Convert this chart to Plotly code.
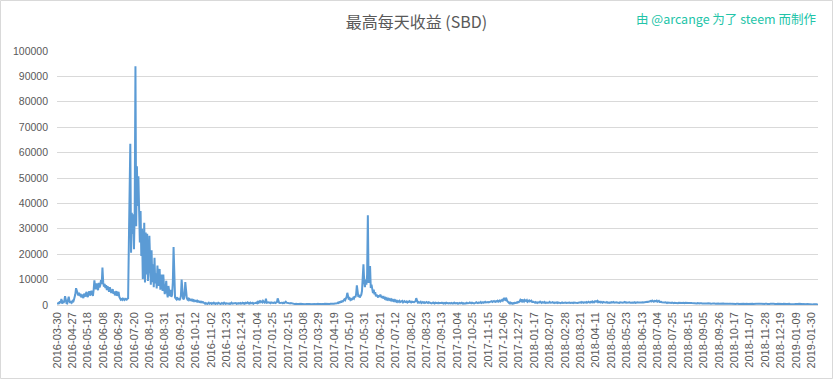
import plotly.graph_objects as go

# Daily highest payout (SBD), one value per data row of the source
values = (
    # 0-20
    [400, 600, 800, 500, 1500, 900, 2400, 600, 1200, 800, 1600, 3500, 1200, 700, 600, 1800, 3300, 1500, 800, 1200, 900]
    # 21-50
    + [1500, 1100, 2000, 3000, 4200, 6600, 5200, 4300, 3800, 4800, 3500, 4400, 3000, 4100, 3600, 2700, 4500, 3900, 3300, 5200,
       4000, 3100, 4600, 5400, 3800, 4200, 5600, 4800, 3600, 6000]
    # 51-62
    + [9700, 7000, 6200, 8500, 7600, 5800, 8700, 6900, 7800, 9800, 8200, 14700]
    # 63-85
    + [9000, 7200, 8300, 6700, 7800, 5900, 7400, 6300, 5200, 7000, 6100, 4700, 5600, 6200, 4400, 5300, 3800, 4600, 5500, 3600,
       4200, 5200, 3200]
    # 86-97
    + [2400, 2100, 2300, 2000, 2500, 2200, 2000, 2400, 2300, 2100, 2500, 2600]
    # 98-107
    + [24000, 38000, 63500, 20600, 36300, 28000, 35700, 22000, 37000, 94000]
    # 108-121
    + [31000, 54600, 39000, 50700, 42000, 24600, 37000, 19300, 30000, 10200, 14000, 32400, 8900, 28500]
    # 122-157
    + [12000, 28000, 9500, 14000, 27300, 10500, 8000, 21500, 9000, 16000, 7000, 18600, 8500, 12500, 6500, 15500, 7500, 9500,
       14200, 6000, 8000, 12000, 5500, 12000, 7000, 4300, 6300, 9500, 5000, 3000, 7500, 4500, 3500, 6000, 3200, 4000]
    # 158-176
    + [9000, 22800, 6000, 3000, 2500, 2200, 3100, 2000, 2600, 1900, 2400, 3500, 10000, 3500, 2500, 2200, 4000, 9000, 3000]
    # 177-200
    + [2800, 2200, 2500, 1900, 2300, 2000, 1800, 2100, 1700, 1900, 1500, 1800, 1600, 1400, 1700, 1300, 1500, 1200, 1400, 1100,
       1300, 1000, 1200, 900]
    # 201-248
    + [700, 500, 800, 600, 400, 700, 900, 500, 600, 800, 450, 700, 550, 900, 600, 400, 750, 650, 500, 850,
       600, 700, 400, 550, 800, 600, 500, 900, 650, 450, 700, 600, 800, 500, 650, 400, 700, 900, 550, 600,
       750, 500, 650, 800, 450, 600, 700, 550]
    # 249-270
    + [600, 800, 500, 700, 900, 600, 750, 500, 850, 650, 700, 1000, 600, 800, 550, 900, 700, 600, 850, 500, 750, 650]
    # 271-285
    + [800, 1000, 700, 1200, 900, 1400, 1100, 1500, 1300, 1000, 1600, 1200, 900, 1100, 2500]
    # 286-301
    + [900, 1000, 800, 1100, 900, 700, 1000, 850, 950, 800, 900, 1000, 750, 900, 1100, 2600]
    # 302-321
    + [1000, 900, 800, 1000, 850, 900, 700, 950, 800, 1000, 1300, 900, 800, 700, 900, 750, 600, 800, 700, 500]
    # 322-381
    + [400, 300, 450, 350, 500, 300, 400, 350, 450, 300, 400, 500, 350, 300, 450, 400, 350, 300, 400, 450,
       300, 350, 500, 400, 300, 350, 400, 450, 300, 400, 350, 300, 450, 400, 500, 350, 300, 400, 450, 350,
       400, 300, 350, 450, 400, 500, 350, 400, 450, 300, 400, 500, 450, 400, 550, 500, 450, 600, 550, 650]
    # 382-396
    + [700, 900, 800, 1100, 1000, 1300, 1200, 1500, 1400, 1800, 2200, 1900, 2500, 3200, 4800]
    # 397-409
    + [3000, 2200, 2600, 2000, 2400, 2100, 2300, 2800, 2500, 3400, 3000, 4200, 7700]
    # 410-427
    + [4000, 3200, 3600, 3000, 3500, 4000, 5500, 9500, 16000, 9300, 7000, 10000, 8000, 12000, 35300, 8700, 10500, 15300]
    # 428-441
    + [6700, 8000, 5500, 4700, 6000, 4200, 5000, 3400, 4000, 3600, 3000, 3800, 3200, 4100]
    # 442-460
    + [3300, 2800, 3500, 2600, 3000, 2500, 2800, 2200, 2600, 2100, 2400, 2000, 2300, 1900, 2200, 1700, 2000, 1600, 1900]
    # 461-490
    + [1500, 1800, 1300, 1600, 1200, 1500, 1700, 1100, 1400, 1300, 1600, 1000, 1300, 1500, 1200, 1100, 1400, 1000, 1300, 1200,
       1500, 1100, 1000, 1300, 1200, 1400, 1100, 1300, 1500, 2700]
    # 491-508
    + [1300, 1000, 1200, 900, 1100, 1300, 800, 1000, 1200, 900, 1100, 800, 1000, 1200, 900, 800, 1100, 1000]
    # 509-590
    + [700, 900, 600, 800, 1000, 700, 600, 900, 800, 500, 700, 900, 650, 800, 600, 750, 900, 700, 550, 800,
       700, 600, 900, 750, 500, 650, 800, 700, 600, 850, 700, 550, 800, 900, 650, 700, 600, 800, 500, 700,
       850, 650, 700, 900, 600, 750, 550, 800, 700, 650, 900, 700, 600, 800, 1000, 750, 650, 900, 700, 800,
       600, 750, 900, 1100, 800, 700, 1000, 850, 900, 1200, 800, 950, 1100, 900, 1000, 1300, 1000, 1100, 900, 1200,
       1000, 1100]
    # 591-614
    + [1300, 1100, 1500, 1200, 1400, 1600, 1300, 1200, 1500, 1400, 1700, 1300, 1500, 1800, 1400, 1600, 2000, 1700, 2300, 1900,
       2800, 2100, 2400, 1600]
    # 615-631
    + [1200, 900, 700, 1000, 600, 800, 500, 700, 600, 900, 700, 800, 1000, 900, 1200, 1100, 1400]
    # 632-650
    + [2000, 1600, 2200, 1500, 1800, 1400, 2000, 1700, 1500, 1900, 1300, 1600, 1800, 1400, 1500, 1700, 1200, 1400, 1300]
    # 651-710
    + [1100, 900, 1200, 1000, 800, 1100, 900, 1000, 1300, 900, 800, 1100, 1000, 900, 1200, 800, 1000, 900, 1100, 850,
       950, 1200, 900, 800, 1000, 1100, 900, 750, 1000, 850, 900, 1100, 800, 950, 1000, 850, 700, 900, 1000, 800,
       900, 750, 850, 1000, 800, 900, 700, 850, 950, 800, 700, 900, 850, 750, 1000, 800, 900, 850, 700, 800]
    # 711-800
    + [900, 1000, 800, 1100, 900, 1200, 1000, 850, 1100, 950, 1000, 1200, 900, 1100, 1300, 1000, 900, 1200, 1100, 1400,
       1000, 1200, 1100, 1500, 1200, 1300, 1600, 1100, 1400, 1200, 1000, 1300, 1100, 900, 1200, 1000, 1100, 950, 1000, 1200,
       900, 1100, 1000, 850, 1000, 1100, 900, 1000, 1200, 900, 1000, 850, 1100, 950, 900, 1000, 800, 1100, 1000, 900,
       1050, 900, 1000, 1200, 950, 1100, 900, 1000, 850, 950, 1100, 900, 1000, 800, 950, 1000, 900, 1100, 850, 1000,
       900, 1050, 1000, 900, 1100, 950, 1000, 1200, 1100, 1000]
    # 801-830
    + [1100, 1000, 1200, 1100, 1300, 1200, 1400, 1300, 1500, 1600, 1400, 1700, 1500, 1300, 1600, 1400, 1500, 1700, 1300, 1400,
       1600, 1200, 1400, 1300, 1100, 1000, 1200, 900, 1000, 1100]
    # 831-867
    + [900, 800, 1000, 750, 850, 900, 700, 800, 950, 800, 700, 900, 850, 750, 800, 900, 700, 850, 800, 750,
       900, 700, 800, 850, 700, 750, 900, 800, 700, 850, 750, 800, 700, 650, 800, 750, 700]
    # 868-914
    + [650, 600, 700, 550, 650, 600, 750, 550, 600, 700, 500, 650, 600, 550, 700, 600, 500, 650, 600, 550,
       650, 700, 550, 600, 500, 650, 550, 600, 700, 550, 500, 600, 650, 550, 600, 500, 550, 650, 600, 500,
       550, 600, 500, 550, 600, 450, 550]
    # 915-1004
    + [500, 450, 550, 400, 500, 450, 400, 550, 500, 450, 500, 400, 450, 550, 500, 400, 450, 500, 450, 400,
       500, 550, 450, 400, 500, 450, 500, 400, 450, 500, 550, 450, 400, 500, 450, 400, 500, 450, 550, 500,
       450, 400, 500, 450, 400, 450, 500, 400, 450, 500, 400, 450, 550, 450, 400, 500, 450, 400, 450, 500,
       400, 450, 500, 450, 400, 350, 450, 400, 500, 450, 400, 450, 400, 350, 450, 400, 450, 500, 400, 450,
       400, 350, 450, 400, 450, 400, 350, 400, 450, 400]
    # 1005-1038
    + [350, 300, 400, 350, 300, 350, 400, 450, 500, 600, 500, 400, 350, 300, 350, 300, 250, 300, 350, 300,
       250, 300, 250, 200, 300, 250, 200, 250, 300, 250, 200, 250, 200, 250]
)

# Category labels shown every 21 rows
tick_labels = [
    "2016-03-30", "2016-04-27", "2016-05-18", "2016-06-08", "2016-06-29", "2016-07-20", "2016-08-10",
    "2016-08-31", "2016-09-21", "2016-10-12", "2016-11-02", "2016-11-23", "2016-12-14", "2017-01-04",
    "2017-01-25", "2017-02-15", "2017-03-08", "2017-03-29", "2017-04-19", "2017-05-10", "2017-05-31",
    "2017-06-21", "2017-07-12", "2017-08-02", "2017-08-23", "2017-09-13", "2017-10-04", "2017-10-25",
    "2017-11-15", "2017-12-06", "2017-12-27", "2018-01-17", "2018-02-07", "2018-02-28", "2018-03-21",
    "2018-04-11", "2018-05-02", "2018-05-23", "2018-06-13", "2018-07-04", "2018-07-25", "2018-08-15",
    "2018-09-05", "2018-09-26", "2018-10-17", "2018-11-07", "2018-11-28", "2018-12-19", "2019-01-09",
    "2019-01-30",
]
label_step = 21
y_ticks = list(range(0, 100001, 10000))

x_index = list(range(len(values)))
tick_pos = [i * label_step for i in range(len(tick_labels))]

W, H = 833, 379
L, R, T, B = 57, 15, 51, 74
pw, ph = W - L - R, H - T - B

fig = go.Figure()
fig.add_trace(go.Scatter(
    x=x_index, y=values, mode="lines",
    line=dict(color="#5b9bd5", width=2),
    showlegend=False, hoverinfo="skip",
))

fig.update_layout(
    width=W, height=H,
    margin=dict(l=L, r=R, t=T, b=B),
    paper_bgcolor="white", plot_bgcolor="white",
    font=dict(family="Liberation Sans, Arial, sans-serif", color="#595959", size=11),
    title=dict(
        text="最高每天收益 (SBD)",
        x=0.5, xref="container", xanchor="center",
        y=1 - 22 / H, yref="container", yanchor="middle",
        font=dict(family="Noto Sans CJK SC, Liberation Sans, sans-serif", size=16, color="#595959"),
    ),
    xaxis=dict(
        range=[0, len(values) - 1],
        tickmode="array", tickvals=tick_pos, ticktext=tick_labels,
        tickangle=-90, showgrid=False, zeroline=False, showline=False,
        ticks="", tickfont=dict(size=11, color="#595959"), automargin=False,
        ticklabelstandoff=4,
    ),
    yaxis=dict(
        range=[0, 100000],
        tickmode="array", tickvals=y_ticks, ticktext=[str(v) for v in y_ticks],
        showgrid=True, gridcolor="#d9d9d9", gridwidth=1,
        zeroline=True, zerolinecolor="#d9d9d9", zerolinewidth=1,
        showline=False, ticks="", tickfont=dict(size=10.5, color="#595959"), automargin=False,
        ticklabelstandoff=8,
    ),
    annotations=[dict(
        text="由 @arcange 为了 steem 而制作",
        xref="paper", yref="paper",
        x=(818 - L) / pw, y=(T + ph - 18) / ph,
        xanchor="right", yanchor="middle", showarrow=False,
        font=dict(family="Noto Sans CJK SC, Liberation Sans, sans-serif", size=12.5, color="#22c4a8"),
    )],
    shapes=[dict(
        type="rect", xref="paper", yref="paper",
        x0=(0.5 - L) / pw, x1=(W - 0.5 - L) / pw,
        y0=(T + ph - (H - 0.5)) / ph, y1=(T + ph - 0.5) / ph,
        line=dict(color="#d9d9d9", width=1), fillcolor="rgba(0,0,0,0)", layer="below",
    )],
)

fig.write_html(
    "out.html",
    config={"displayModeBar": False, "staticPlot": True},
    post_script="document.body.style.margin='0';document.body.style.padding='0';",
)
